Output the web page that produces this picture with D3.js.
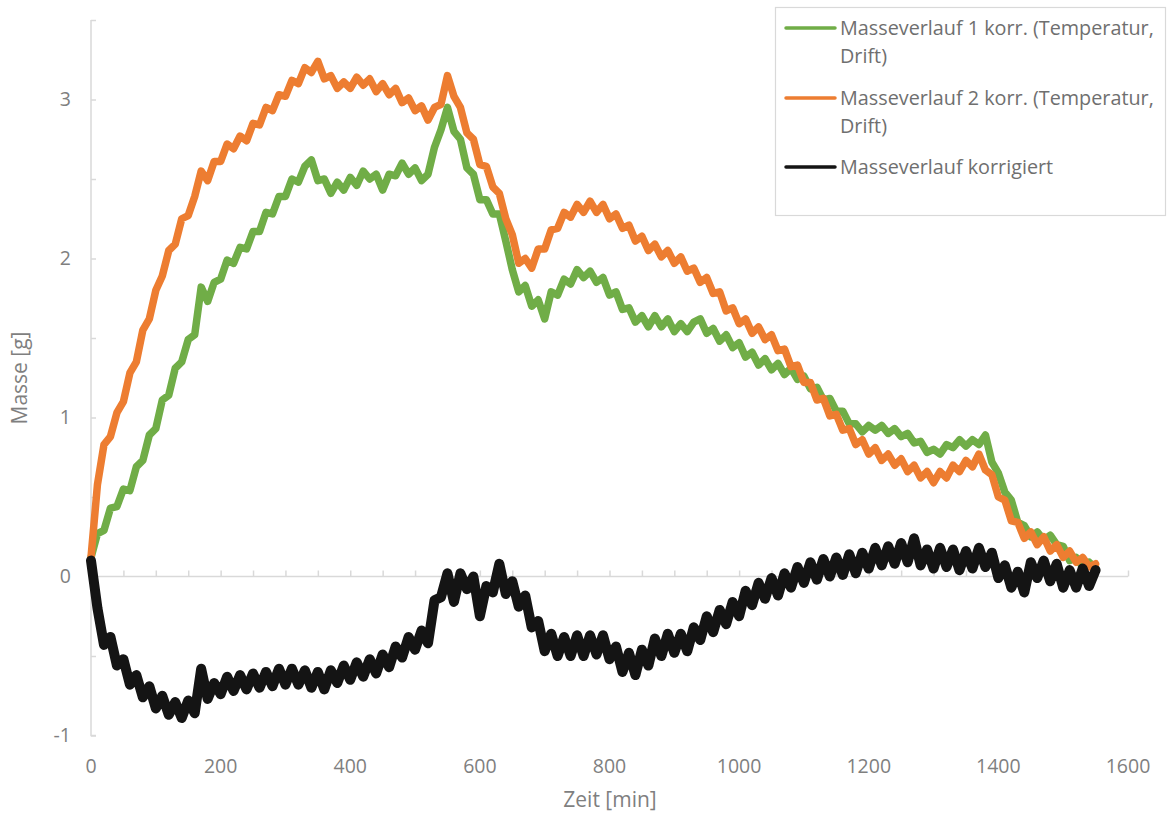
<!DOCTYPE html>
<html><head><meta charset="utf-8">
<script src="https://cdn.jsdelivr.net/npm/d3@7"></script>
<style>body{margin:0;background:#fff}svg{display:block}text{font-family:"Open Sans",sans-serif}</style>
</head><body>
<svg id="c" width="1172" height="816"></svg>
<script>
const zeit = [0,10,20,30,40,50,60,70,80,90,100,110,120,130,140,150,160,170,180,190,200,210,220,230,240,250,260,270,280,290,300,310,320,330,340,350,360,370,380,390,400,410,420,430,440,450,460,470,480,490,500,510,520,530,540,550,560,570,580,590,600,610,620,630,640,650,660,670,680,690,700,710,720,730,740,750,760,770,780,790,800,810,820,830,840,850,860,870,880,890,900,910,920,930,940,950,960,970,980,990,1000,1010,1020,1030,1040,1050,1060,1070,1080,1090,1100,1110,1120,1130,1140,1150,1160,1170,1180,1190,1200,1210,1220,1230,1240,1250,1260,1270,1280,1290,1300,1310,1320,1330,1340,1350,1360,1370,1380,1390,1400,1410,1420,1430,1440,1450,1460,1470,1480,1490,1500,1510,1520,1530,1540,1550];

const masse1 = [0.12,0.27,0.29,0.43,0.44,0.55,0.54,0.69,0.73,0.89,0.93,1.11,1.14,1.31,1.35,1.49,1.52,1.82,1.73,1.85,1.87,1.99,1.97,2.07,2.06,2.17,2.17,2.29,2.28,2.39,2.39,2.50,2.48,2.58,2.62,2.49,2.50,2.41,2.48,2.43,2.51,2.46,2.55,2.50,2.53,2.43,2.53,2.52,2.60,2.53,2.57,2.49,2.53,2.70,2.81,2.95,2.80,2.75,2.57,2.53,2.37,2.37,2.28,2.28,2.11,1.93,1.79,1.83,1.70,1.74,1.62,1.79,1.77,1.87,1.84,1.93,1.88,1.92,1.85,1.88,1.77,1.79,1.68,1.69,1.60,1.64,1.57,1.64,1.57,1.62,1.54,1.59,1.54,1.60,1.62,1.53,1.56,1.48,1.52,1.44,1.47,1.38,1.41,1.33,1.37,1.30,1.34,1.27,1.31,1.24,1.26,1.18,1.19,1.11,1.12,1.04,1.04,0.96,0.96,0.91,0.95,0.92,0.95,0.90,0.93,0.88,0.90,0.84,0.85,0.78,0.80,0.77,0.83,0.81,0.86,0.82,0.86,0.83,0.89,0.72,0.65,0.53,0.48,0.34,0.32,0.25,0.28,0.23,0.26,0.20,0.19,0.10,0.12,0.06,0.09,0.05];

const masse2 = [0.12,0.58,0.83,0.88,1.03,1.10,1.28,1.35,1.55,1.62,1.80,1.89,2.05,2.09,2.25,2.27,2.39,2.55,2.49,2.61,2.61,2.72,2.69,2.77,2.74,2.85,2.84,2.95,2.93,3.03,3.02,3.12,3.10,3.20,3.17,3.24,3.13,3.15,3.07,3.11,3.07,3.14,3.09,3.13,3.05,3.10,3.03,3.07,2.98,3.01,2.93,2.96,2.87,2.95,2.97,3.15,3.02,2.95,2.79,2.75,2.59,2.58,2.45,2.41,2.25,2.15,1.97,2.00,1.94,2.06,2.06,2.18,2.19,2.29,2.26,2.34,2.29,2.36,2.29,2.34,2.25,2.28,2.19,2.21,2.11,2.14,2.05,2.09,2.01,2.05,1.97,2.01,1.92,1.94,1.85,1.88,1.78,1.79,1.67,1.69,1.59,1.62,1.53,1.57,1.49,1.52,1.42,1.43,1.32,1.33,1.22,1.22,1.11,1.12,1.01,1.02,0.92,0.93,0.83,0.86,0.77,0.81,0.73,0.77,0.70,0.74,0.66,0.70,0.62,0.66,0.59,0.66,0.62,0.70,0.66,0.73,0.69,0.77,0.67,0.64,0.50,0.48,0.35,0.34,0.24,0.28,0.20,0.25,0.16,0.20,0.12,0.16,0.09,0.12,0.06,0.08];

const masseKorr = [0.10,-0.20,-0.43,-0.38,-0.56,-0.52,-0.68,-0.62,-0.76,-0.69,-0.83,-0.75,-0.87,-0.79,-0.89,-0.78,-0.86,-0.58,-0.77,-0.67,-0.74,-0.63,-0.72,-0.62,-0.71,-0.61,-0.70,-0.60,-0.69,-0.58,-0.68,-0.58,-0.68,-0.59,-0.70,-0.60,-0.71,-0.59,-0.67,-0.56,-0.65,-0.54,-0.63,-0.52,-0.61,-0.49,-0.57,-0.44,-0.51,-0.38,-0.46,-0.34,-0.42,-0.15,-0.13,0.02,-0.16,0.02,-0.08,0.00,-0.25,-0.06,-0.10,0.08,-0.11,-0.03,-0.19,-0.12,-0.32,-0.28,-0.47,-0.36,-0.50,-0.38,-0.50,-0.37,-0.50,-0.37,-0.49,-0.37,-0.52,-0.44,-0.60,-0.48,-0.62,-0.46,-0.56,-0.39,-0.50,-0.36,-0.48,-0.36,-0.47,-0.32,-0.40,-0.25,-0.35,-0.21,-0.30,-0.16,-0.25,-0.09,-0.18,-0.04,-0.14,-0.01,-0.12,0.02,-0.07,0.06,-0.04,0.09,-0.02,0.11,0.00,0.12,0.01,0.14,0.02,0.15,0.05,0.18,0.07,0.19,0.08,0.21,0.09,0.24,0.07,0.17,0.05,0.18,0.06,0.17,0.04,0.16,0.05,0.18,0.06,0.15,-0.01,0.07,-0.07,0.03,-0.10,0.09,-0.01,0.10,-0.03,0.08,-0.07,0.04,-0.07,0.05,-0.06,0.04];

const legendLines = [["Masseverlauf 1 korr. (Temperatur,","Drift)"],["Masseverlauf 2 korr. (Temperatur,","Drift)"],["Masseverlauf korrigiert"]];
const xTicks = [0,200,400,600,800,1000,1200,1400,1600];
const yTicks = [-1,0,1,2,3];
const colors = ["#70ad47","#ed7d31","#141414"];

const svg = d3.select("#c");
const x = d3.scaleLinear().domain([0,1600]).range([91,1128]);
const y = d3.scaleLinear().domain([-1,3.5]).range([735.5,20]);
const axisCol = "#d9d9d9", textCol = "#7f7f7f", legCol = "#6f6f6f";

// y axis
const ya = svg.append("g").attr("transform","translate(91,0)")
  .call(d3.axisRight(y).tickValues(d3.range(-1,3.51,0.5)).tickSize(5).tickFormat(""));
ya.select(".domain").attr("stroke",axisCol).attr("stroke-width",1.5).attr("d","M0,20V735.5H5");
ya.selectAll(".tick line").attr("stroke",axisCol).attr("stroke-width",1.5);
svg.append("g").selectAll("text").data(yTicks).join("text")
  .attr("x",71).attr("y",d=>y(d)).attr("dy","0.35em").attr("text-anchor","end")
  .attr("font-size",19.5).attr("fill",textCol).text(d=>d);

// x axis at 0
const xa = svg.append("g").attr("transform",`translate(0,${y(0)})`)
  .call(d3.axisTop(x).tickValues(d3.range(50,1601,50)).tickSize(6).tickFormat(""));
xa.select(".domain").attr("stroke",axisCol).attr("stroke-width",1.5).attr("d","M91,0H1128");
xa.selectAll(".tick line").attr("stroke",axisCol).attr("stroke-width",1.5);
svg.append("g").selectAll("text").data(xTicks).join("text")
  .attr("x",d=>x(d)).attr("y",766).attr("dy","0.35em").attr("text-anchor","middle")
  .attr("font-size",19.5).attr("fill",textCol).text(d=>d);

// titles
svg.append("text").attr("x",610).attr("y",800).attr("dy","0.35em").attr("text-anchor","middle")
  .attr("font-size",21).attr("fill",textCol).text("Zeit [min]");
svg.append("text").attr("transform","translate(20,378) rotate(-90)").attr("dy","0.35em").attr("text-anchor","middle")
  .attr("font-size",21).attr("fill",textCol).text("Masse [g]");

// series
const data = [masse1, masse2, masseKorr];
const line = d3.line().x(d=>x(d[0])).y(d=>y(d[1]));
const widths = [7.5,7.5,10];
data.forEach((vals,i)=>{
  svg.append("path").datum(zeit.map((t,j)=>[t,vals[j]]))
    .attr("d",line).attr("fill","none").attr("stroke",colors[i])
    .attr("stroke-width",widths[i]).attr("stroke-linejoin","round").attr("stroke-linecap","round");
});

// legend
svg.append("rect").attr("x",775.5).attr("y",7.5).attr("width",390).attr("height",208)
  .attr("fill","#fff").attr("stroke",axisCol).attr("stroke-width",1.2);
const ly = [28,98,167];
legendLines.forEach((ls,i)=>{
  svg.append("line").attr("x1",786).attr("x2",835).attr("y1",ly[i]).attr("y2",ly[i])
    .attr("stroke",colors[i]).attr("stroke-width",3.5).attr("stroke-linecap","round");
  ls.forEach((s,k)=>{
    svg.append("text").attr("x",840).attr("y",ly[i]+k*28).attr("dy","0.35em")
      .attr("font-size",19.8).attr("fill",legCol).text(s);
  });
});
</script>
</body></html>
